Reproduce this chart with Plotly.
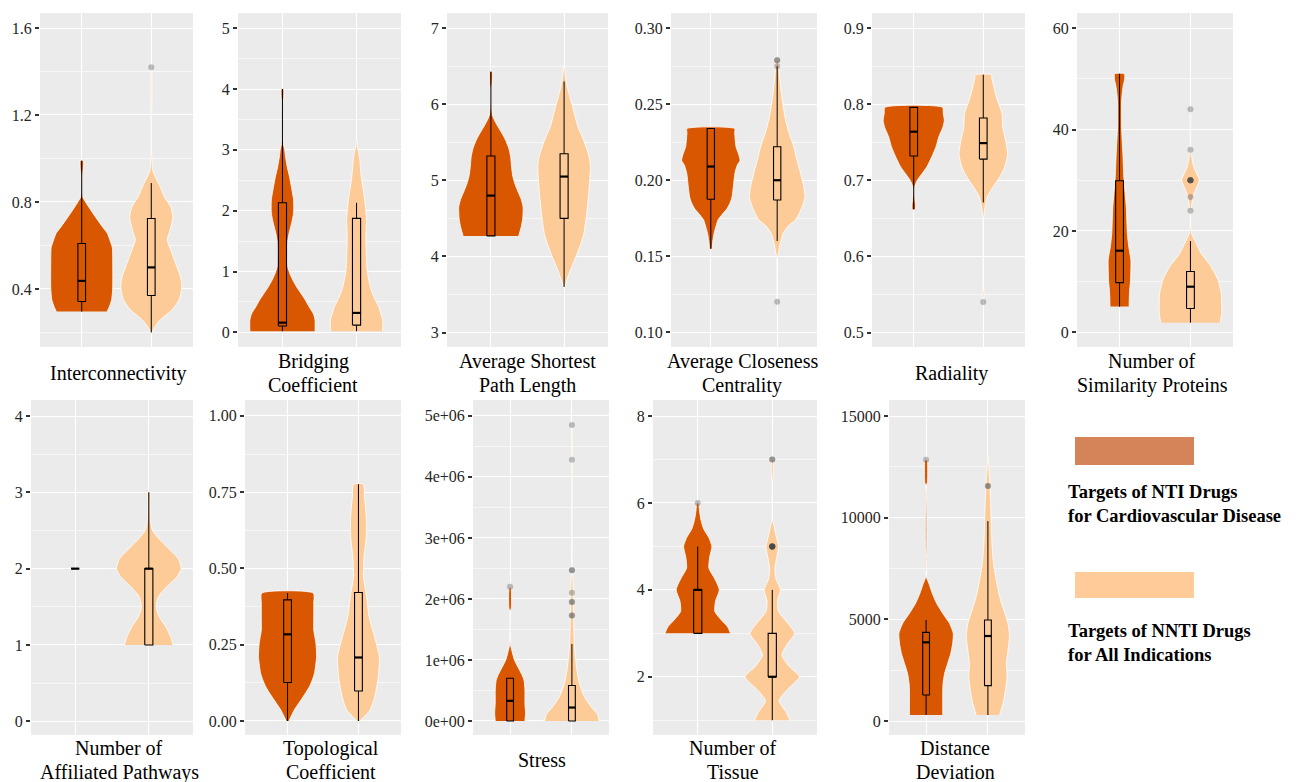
import plotly.graph_objects as go

# page body has an 8px margin; lay the figure out in window pixels and compensate
OFF = 8
W, H = 1298 - OFF, 782 - OFF
NTI_COLOR = "#D95700"
NNTI_COLOR = "#FDCB98"
LEG_NTI = "#D5845A"
LEG_NNTI = "#FFCC99"
FONT = "Liberation Serif"

# ---------------- data ----------------
titles = ["Interconnectivity", "Bridging<br>Coefficient", "Average Shortest<br>Path Length",
          "Average Closeness<br>Centrality", "Radiality", "Number of<br>Similarity Proteins",
          "Number of<br>Affiliated Pathways", "Topological<br>Coefficient", "Stress",
          "Number of<br>Tissue", "Distance<br>Deviation"]

# violin profiles: (value, half-width in category units)
inter_nti = [(0.296, 0.365), (0.32, 0.40), (0.35, 0.43), (0.40, 0.445), (0.55, 0.445), (0.59, 0.44),
             (0.62, 0.41), (0.655, 0.37), (0.685, 0.30), (0.73, 0.20), (0.775, 0.105), (0.80, 0.055),
             (0.823, 0.015), (0.86, 0.006), (0.92, 0.008), (0.95, 0.02), (0.99, 0.02)]
inter_nnti = [(0.20, 0.005), (0.23, 0.06), (0.258, 0.13), (0.304, 0.30), (0.35, 0.40), (0.41, 0.44),
              (0.456, 0.42), (0.518, 0.35), (0.579, 0.28), (0.625, 0.23), (0.67, 0.27), (0.73, 0.31),
              (0.777, 0.28), (0.823, 0.19), (0.869, 0.13), (0.915, 0.06), (0.945, 0.02), (1.0, 0.008),
              (1.05, 0.003), (1.42, 0.002)]
bridg_nti = [(0.02, 0.44), (0.2, 0.44), (0.3, 0.42), (0.42, 0.36), (0.53, 0.31), (0.64, 0.25), (0.75, 0.19),
             (0.86, 0.14), (0.97, 0.10), (1.08, 0.07), (1.3, 0.055), (1.5, 0.07), (1.63, 0.09), (1.8, 0.125),
             (1.96, 0.15), (2.18, 0.15), (2.4, 0.12), (2.56, 0.095), (2.72, 0.065), (2.9, 0.04), (3.0, 0.03),
             (3.1, 0.012), (3.2, 0.004), (3.8, 0.003), (3.85, 0.015), (4.0, 0.015)]
bridg_nnti = [(0.02, 0.35), (0.2, 0.355), (0.3, 0.33), (0.42, 0.30), (0.53, 0.255), (0.64, 0.215),
              (0.75, 0.185), (0.86, 0.165), (1.0, 0.145), (1.19, 0.135), (1.52, 0.127), (1.7, 0.13),
              (1.85, 0.135), (2.0, 0.125), (2.18, 0.11), (2.35, 0.09), (2.5, 0.07), (2.67, 0.055),
              (2.83, 0.045), (2.95, 0.03), (3.05, 0.01), (3.18, 0.002)]
aspl_nti = [(4.27, 0.38), (4.39, 0.415), (4.5, 0.435), (4.65, 0.44), (4.75, 0.415), (4.83, 0.38),
            (4.95, 0.33), (5.05, 0.30), (5.2, 0.28), (5.31, 0.27), (5.42, 0.245), (5.53, 0.20), (5.62, 0.15),
            (5.7, 0.10), (5.78, 0.055), (5.86, 0.02), (6.0, 0.006), (6.2, 0.006), (6.27, 0.015), (6.43, 0.015)]
aspl_nnti = [(3.6, 0.01), (3.7, 0.04), (3.78, 0.07), (3.9, 0.12), (4.04, 0.18), (4.17, 0.23), (4.3, 0.27),
             (4.57, 0.31), (4.87, 0.34), (5.18, 0.36), (5.3, 0.345), (5.44, 0.30), (5.57, 0.25), (5.7, 0.19),
             (5.84, 0.15), (5.97, 0.116), (6.19, 0.054), (6.34, 0.022), (6.5, 0.003)]
acc_nti = [(0.155, 0.02), (0.16, 0.03), (0.165, 0.05), (0.17, 0.08), (0.174, 0.11), (0.178, 0.18),
           (0.181, 0.24), (0.185, 0.29), (0.189, 0.32), (0.196, 0.34), (0.205, 0.365), (0.21, 0.40),
           (0.213, 0.44), (0.217, 0.42), (0.222, 0.38), (0.231, 0.36), (0.234, 0.36)]
acc_nnti = [(0.12, 0.002), (0.149, 0.003), (0.152, 0.02), (0.156, 0.035), (0.165, 0.09), (0.17, 0.17),
            (0.174, 0.28), (0.178, 0.33), (0.183, 0.38), (0.189, 0.42), (0.196, 0.40), (0.205, 0.35),
            (0.213, 0.30), (0.222, 0.25), (0.231, 0.18), (0.24, 0.125), (0.253, 0.075), (0.266, 0.04),
            (0.277, 0.02), (0.279, 0.01)]
rad_nti = [(0.662, 0.025), (0.668, 0.025), (0.675, 0.015), (0.69, 0.008), (0.70, 0.05), (0.709, 0.12),
           (0.718, 0.19), (0.731, 0.26), (0.744, 0.32), (0.757, 0.36), (0.77, 0.42), (0.779, 0.44),
           (0.788, 0.425), (0.796, 0.415)]
rad_nnti = [(0.54, 0.002), (0.55, 0.01), (0.56, 0.003), (0.65, 0.003), (0.655, 0.01), (0.665, 0.025),
            (0.679, 0.06), (0.692, 0.145), (0.705, 0.24), (0.718, 0.31), (0.735, 0.35), (0.753, 0.32),
            (0.77, 0.28), (0.788, 0.27), (0.806, 0.20), (0.823, 0.15), (0.836, 0.12), (0.839, 0.12)]
sim_nti = [(5.07, 0.135), (7.7, 0.14), (10.3, 0.155), (14.3, 0.16), (16.9, 0.13), (19.5, 0.11),
           (24.8, 0.095), (30.1, 0.063), (35.3, 0.047), (40.6, 0.028), (45.9, 0.03), (48.5, 0.05),
           (49.8, 0.07), (51.0, 0.07)]
sim_nnti = [(1.9, 0.42), (3.75, 0.44), (7.7, 0.435), (10.3, 0.39), (13.0, 0.29), (15.6, 0.15), (18.2, 0.06),
            (19.5, 0.015), (21.0, 0.003), (23.5, 0.005), (25.5, 0.02), (27.4, 0.05), (29.0, 0.10),
            (30.1, 0.125), (31.5, 0.08), (32.7, 0.045), (35.3, 0.01), (37.0, 0.003), (44.0, 0.002)]
path_nti = [(2.0, 0.0), (2.0, 0.0)]
path_nnti = [(1.0, 0.33), (1.1, 0.30), (1.24, 0.23), (1.37, 0.14), (1.5, 0.10), (1.63, 0.13), (1.76, 0.24),
             (1.89, 0.38), (2.0, 0.44), (2.13, 0.40), (2.26, 0.27), (2.4, 0.13), (2.5, 0.05), (2.64, 0.02),
             (2.85, 0.015), (2.98, 0.02), (3.0, 0.02)]
topo_nti = [(0.0, 0.02), (0.036, 0.095), (0.069, 0.19), (0.09, 0.25), (0.113, 0.31), (0.135, 0.35),
            (0.156, 0.38), (0.211, 0.41), (0.255, 0.40), (0.298, 0.37), (0.342, 0.37), (0.386, 0.37),
            (0.419, 0.365)]
topo_nnti = [(0.0, 0.02), (0.036, 0.165), (0.08, 0.23), (0.145, 0.28), (0.211, 0.295), (0.277, 0.225),
             (0.342, 0.15), (0.408, 0.115), (0.473, 0.07), (0.539, 0.08), (0.604, 0.11), (0.67, 0.11),
             (0.736, 0.085), (0.776, 0.07)]
stress_nti = [(0, 0.24), (126000, 0.25), (290000, 0.24), (510000, 0.24), (670000, 0.225), (760000, 0.19),
              (840000, 0.15), (1000000, 0.07), (1160000, 0.027), (1270000, 0.004), (1800000, 0.003),
              (1850000, 0.02), (2150000, 0.02), (2200000, 0.005)]
stress_nnti = [(0, 0.44), (100000, 0.42), (235000, 0.31), (400000, 0.20), (620000, 0.12), (840000, 0.08),
               (1050000, 0.054), (1270000, 0.038), (1600000, 0.027), (1930000, 0.022), (2260000, 0.016),
               (2580000, 0.003), (4850000, 0.002)]
tissue_nti = [(3.0, 0.44), (3.15, 0.40), (3.3, 0.32), (3.5, 0.23), (3.75, 0.24), (4.0, 0.29), (4.25, 0.23),
              (4.5, 0.15), (4.75, 0.16), (5.0, 0.19), (5.2, 0.15), (5.4, 0.08), (5.6, 0.045), (5.8, 0.025),
              (6.0, 0.01)]
tissue_nnti = [(1.0, 0.24), (1.2, 0.18), (1.45, 0.09), (1.7, 0.20), (2.0, 0.365), (2.25, 0.22), (2.5, 0.13),
               (2.75, 0.20), (3.0, 0.30), (3.25, 0.20), (3.5, 0.085), (3.75, 0.07), (4.0, 0.11), (4.25, 0.05),
               (4.5, 0.035), (4.75, 0.06), (5.0, 0.085), (5.25, 0.05), (5.5, 0.02), (5.6, 0.003), (6.5, 0.003),
               (6.6, 0.01), (7.0, 0.008)]
dist_nti = [(295, 0.27), (1524, 0.27), (1850, 0.275), (2340, 0.30), (2835, 0.35), (3330, 0.40), (3820, 0.43),
            (4310, 0.44), (4800, 0.38), (5290, 0.27), (5790, 0.17), (6280, 0.10), (6770, 0.045), (7100, 0.005),
            (11600, 0.003), (11700, 0.02), (12800, 0.02), (12850, 0.005)]
dist_nnti = [(295, 0.19), (870, 0.245), (1524, 0.285), (2180, 0.31), (2835, 0.30), (3490, 0.325), (4150, 0.35),
             (4800, 0.325), (5460, 0.255), (6110, 0.19), (6930, 0.135), (7750, 0.09), (8740, 0.065),
             (9720, 0.054), (10700, 0.043), (11520, 0.032), (12340, 0.016), (13000, 0.002)]

# box stats: [lower whisker, q1, median, q3, upper whisker]
box_nti = [[0.296, 0.342, 0.437, 0.609, 0.99], [0.02, 0.104, 0.16, 2.13, 4.0], [4.27, 4.27, 4.8, 5.32, 6.43],
           [0.155, 0.1875, 0.209, 0.234, 0.234], [0.662, 0.732, 0.764, 0.796, 0.796], [5.07, 9.8, 16.1, 29.9, 51],
           [2, 2, 2, 2, 2], [0, 0.126, 0.284, 0.397, 0.419], [0, 0, 330000, 700000, 700000],
           [3, 3, 4, 4, 5], [295, 1280, 3870, 4360, 4970]]
box_nnti = [[0.2, 0.37, 0.499, 0.724, 0.887], [0.02, 0.12, 0.32, 1.875, 2.13], [3.6, 4.5, 5.05, 5.35, 6.3],
            [0.16, 0.187, 0.2, 0.222, 0.275], [0.671, 0.728, 0.749, 0.782, 0.839], [1.9, 4.7, 9, 12, 18],
            [1, 1, 2, 2, 3], [0, 0.098, 0.208, 0.421, 0.776], [0, 0, 220000, 580000, 1260000],
            [1, 2, 2, 3, 4], [295, 1740, 4180, 4970, 9830]]

# outliers
out_nti = [[], [], [], [], [], [], [], [], [2200000], [6], [12850]]
out_nnti = [[1.42], [], [], [0.12, 0.279, 0.279, 0.275], [0.54],
            [24, 26.7, 30, 30, 30, 30, 30, 30, 36, 44], [], [],
            [1730000, 1730000, 1950000, 1950000, 2100000, 2470000, 2470000, 4280000, 4850000],
            [5, 5, 5, 5, 5, 5, 5, 5, 7, 7], [11560, 11560]]

# axis ticks
tick_vals = [[0.4, 0.8, 1.2, 1.6], [0, 1, 2, 3, 4, 5], [3, 4, 5, 6, 7], [0.10, 0.15, 0.20, 0.25, 0.30],
             [0.5, 0.6, 0.7, 0.8, 0.9], [0, 20, 40, 60], [0, 1, 2, 3, 4], [0, 0.25, 0.5, 0.75, 1.0],
             [0, 1e6, 2e6, 3e6, 4e6, 5e6], [2, 4, 6, 8], [0, 5000, 10000, 15000]]
tick_text = [["0.4", "0.8", "1.2", "1.6"], ["0", "1", "2", "3", "4", "5"], ["3", "4", "5", "6", "7"],
             ["0.10", "0.15", "0.20", "0.25", "0.30"], ["0.5", "0.6", "0.7", "0.8", "0.9"],
             ["0", "20", "40", "60"], ["0", "1", "2", "3", "4"], ["0.00", "0.25", "0.50", "0.75", "1.00"],
             ["0e+00", "1e+06", "2e+06", "3e+06", "4e+06", "5e+06"], ["2", "4", "6", "8"],
             ["0", "5000", "10000", "15000"]]
minor_vals = [[0.2, 0.6, 1.0, 1.4], [0.5, 1.5, 2.5, 3.5, 4.5], [3.5, 4.5, 5.5, 6.5],
              [0.125, 0.175, 0.225, 0.275], [0.55, 0.65, 0.75, 0.85], [10, 30, 50], [0.5, 1.5, 2.5, 3.5],
              [0.125, 0.375, 0.625, 0.875], [5e5, 1.5e6, 2.5e6, 3.5e6, 4.5e6], [1, 3, 5, 7],
              [2500, 7500, 12500]]
y_ranges = [[0.133, 1.669], [-0.24, 5.25], [2.81, 7.2], [0.0903, 0.310], [0.481, 0.92], [-2.9, 63],
            [-0.18, 4.21], [-0.046, 1.052], [-230000, 5260000], [0.66, 8.37], [-688, 15787]]

violins_nti = [inter_nti, bridg_nti, aspl_nti, acc_nti, rad_nti, sim_nti, path_nti, topo_nti, stress_nti,
               tissue_nti, dist_nti]
violins_nnti = [inter_nnti, bridg_nnti, aspl_nnti, acc_nnti, rad_nnti, sim_nnti, path_nnti, topo_nnti,
                stress_nnti, tissue_nnti, dist_nnti]

# ---------------- layout (window-pixel geometry) ----------------
panel_px = [(40, 193, 13, 347), (238, 401, 13, 347), (447, 608, 13, 347), (671, 817, 13, 347),
            (872, 1025, 13, 347), (1077, 1233, 13, 347),
            (31, 193, 400, 735), (245, 401, 400, 735), (473, 609, 400, 735), (653, 817, 400, 735),
            (889, 1025, 400, 735)]
title_cx = [118, 313, 527, 742, 951, 1152, 119, 331, 542, 733, 955]
title_cy = [373] * 6 + [760] * 5
LINE_GAP = 24


def px(x):
    return (x - OFF) / W


def py(y):
    return 1 - (y - OFF) / H


fig = go.Figure()
BOX_W = 0.11


def add_violin(prof, center, color, ax):
    ys = [p[0] for p in prof]
    ws = [p[1] for p in prof]
    xs = [center + w for w in ws] + [center - w for w in reversed(ws)]
    yy = ys + ys[::-1]
    fig.add_trace(go.Scatter(x=xs, y=yy, mode="lines", fill="toself", fillcolor=color,
                             line=dict(color="white", width=0.8, shape="spline", smoothing=0.6),
                             hoverinfo="skip", xaxis="x" + ax, yaxis="y" + ax, showlegend=False))


def add_box(st, center, ax):
    lo, q1, med, q3, hi = st
    a, b = center - BOX_W / 2, center + BOX_W / 2
    fig.add_trace(go.Scatter(x=[center, center, None, center, center], y=[lo, q1, None, q3, hi],
                             mode="lines", line=dict(color="black", width=1.0),
                             xaxis="x" + ax, yaxis="y" + ax, showlegend=False, hoverinfo="skip"))
    fig.add_trace(go.Scatter(x=[a, b, b, a, a], y=[q1, q1, q3, q3, q1], mode="lines",
                             line=dict(color="black", width=1.1),
                             xaxis="x" + ax, yaxis="y" + ax, showlegend=False, hoverinfo="skip"))
    fig.add_trace(go.Scatter(x=[a, b], y=[med, med], mode="lines",
                             line=dict(color="black", width=2.2), xaxis="x" + ax, yaxis="y" + ax,
                             showlegend=False, hoverinfo="skip"))


def add_out(vals, center, ax):
    if not vals:
        return
    fig.add_trace(go.Scatter(x=[center] * len(vals), y=vals, mode="markers",
                             marker=dict(size=6, color="rgba(70,70,70,0.33)", line=dict(width=0)),
                             xaxis="x" + ax, yaxis="y" + ax, showlegend=False, hoverinfo="skip"))


layout = dict(width=W, height=H, margin=dict(l=0, r=0, t=0, b=0), paper_bgcolor="white",
              plot_bgcolor="#EBEBEB", showlegend=False,
              font=dict(family=FONT, size=16, color="#333333"))

annotations = []
shapes = []
for i in range(11):
    ax = "" if i == 0 else str(i + 1)
    x0, x1, y0, y1 = panel_px[i]
    add_violin(violins_nti[i], 1, NTI_COLOR, ax)
    add_violin(violins_nnti[i], 2, NNTI_COLOR, ax)
    add_box(box_nti[i], 1, ax)
    add_box(box_nnti[i], 2, ax)
    add_out(out_nti[i], 1, ax)
    add_out(out_nnti[i], 2, ax)
    layout["xaxis" + ax] = dict(domain=[px(x0), px(x1)], anchor="y" + ax, range=[0.4, 2.6],
                                tickvals=[1, 2], showticklabels=False, ticks="", showgrid=True,
                                gridcolor="white", gridwidth=1.1, zeroline=False, showline=False)
    layout["yaxis" + ax] = dict(domain=[py(y1), py(y0)], anchor="x" + ax, range=y_ranges[i],
                                tickvals=tick_vals[i], ticktext=tick_text[i], ticks="outside", ticklen=4,
                                tickwidth=1.5, tickcolor="#333333", showgrid=True, gridcolor="white",
                                gridwidth=1.1, zeroline=False, showline=False,
                                tickfont=dict(family=FONT, size=16, color="#262626"),
                                minor=dict(tickvals=minor_vals[i], showgrid=True, gridcolor="#F7F7F7",
                                           gridwidth=0.6, ticks=""))
    lines = titles[i].split("<br>")
    n = len(lines)
    for k, ln in enumerate(lines):
        cy = title_cy[i] + (k - (n - 1) / 2) * LINE_GAP
        annotations.append(dict(text=ln, x=px(title_cx[i]), y=py(cy), xref="paper", yref="paper",
                                showarrow=False, xanchor="center", yanchor="middle",
                                font=dict(family=FONT, size=20, color="black")))

# legend (manual, as in the original figure)
legend_rects = [(1075, 1194, 437, 465, LEG_NTI), (1075, 1194, 572, 598, LEG_NNTI)]
for (a, b, c, d, col) in legend_rects:
    shapes.append(dict(type="rect", xref="paper", yref="paper", x0=px(a), x1=px(b), y0=py(d), y1=py(c),
                       fillcolor=col, line=dict(width=0)))
legend_lines = [("Targets of NTI Drugs", 492), ("for Cardiovascular Disease", 516),
                ("Targets of NNTI Drugs", 631), ("for All Indications", 655)]
for txt, yy in legend_lines:
    annotations.append(dict(text="<b>" + txt + "</b>", x=px(1066), y=py(yy), xref="paper", yref="paper",
                            showarrow=False, xanchor="left", yanchor="middle",
                            font=dict(family=FONT, size=18.5, color="black")))

layout["annotations"] = annotations
layout["shapes"] = shapes
fig.update_layout(**layout)
fig.write_html("out.html")
